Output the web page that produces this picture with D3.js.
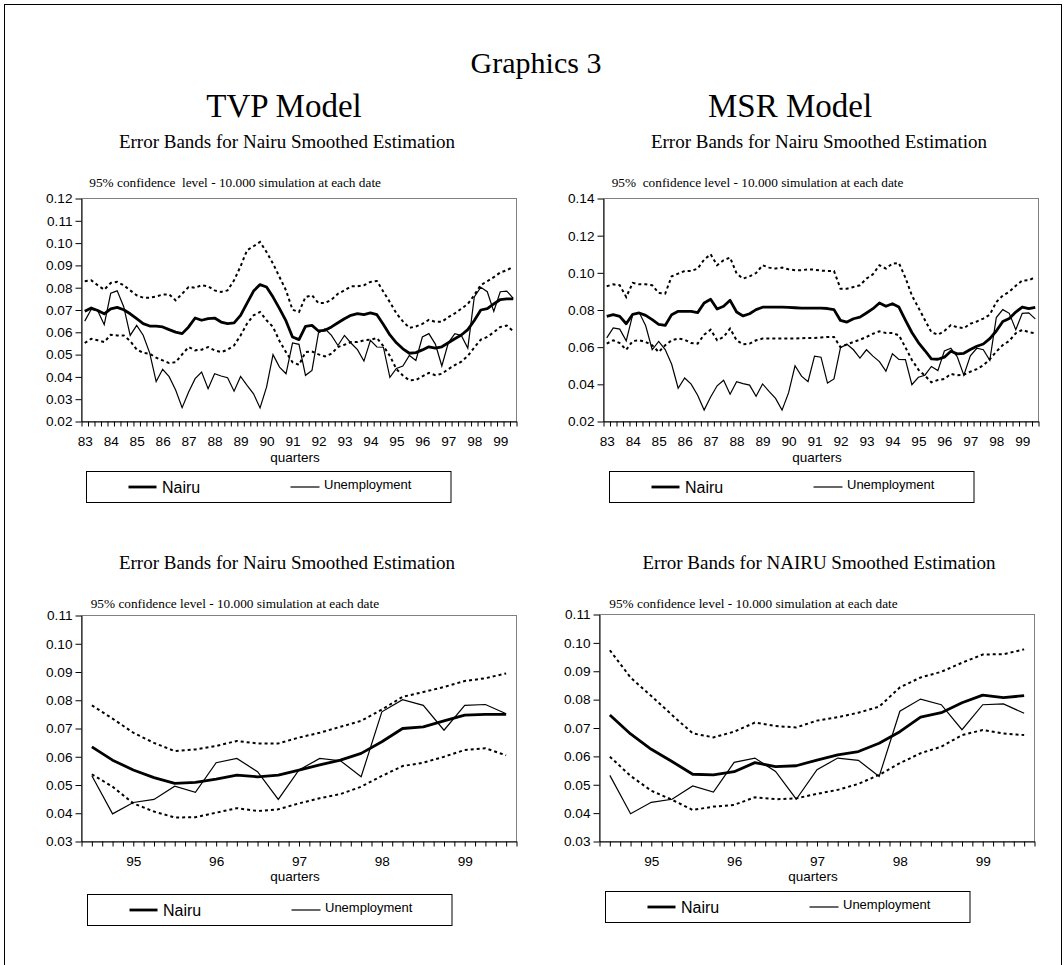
<!DOCTYPE html>
<html><head><meta charset="utf-8">
<script src="https://cdn.jsdelivr.net/npm/d3@7"></script>
<style>
body{margin:0;background:#fff;}
svg text{white-space:pre;}
</style></head><body>
<svg id="c" width="1064" height="965"></svg>
<script>
// ---------- data (quarterly, 1983Q1 .. 1999Q3) ----------
const yearLabels = ["83","84","85","86","87","88","89","90","91","92","93","94","95","96","97","98","99"];
const quartersPerYear = 4;
const nQuarters = 67;

const unemployment = [
 0.0650,0.0703,0.0697,0.0634,0.0775,0.0786,0.0715,0.0586,0.0631,0.0587,
 0.0508,0.0379,0.0434,0.0401,0.0341,0.0262,0.0332,0.0392,0.0422,0.0347,
 0.0414,0.0404,0.0396,0.0336,0.0402,0.0362,0.0324,0.0261,0.0354,0.0500,
 0.0444,0.0414,0.0552,0.0546,0.0407,0.0429,0.0597,0.0616,0.0586,0.0541,
 0.0586,0.0552,0.0522,0.0471,0.0564,0.0534,
 0.0533,0.0398,0.0438,0.0449,0.0496,0.0474,0.0579,0.0594,0.0547,0.0449,
 0.0553,0.0594,0.0586,0.0529,0.0759,0.0802,0.0782,0.0694,0.0782,0.0785,0.0752];

const nairuTVP = [
 0.0694,0.0709,0.0698,0.0683,0.0705,0.0712,0.0701,0.0683,0.0661,0.0639,
 0.0628,0.0628,0.0624,0.0612,0.0601,0.0594,0.0624,0.0664,0.0654,0.0661,
 0.0664,0.0646,0.0639,0.0642,0.0676,0.0731,0.0785,0.0814,0.0803,0.0758,
 0.0706,0.0651,0.0579,0.0567,0.0627,0.0631,0.0606,0.0609,0.0624,0.0643,
 0.0661,0.0676,0.0684,0.0679,0.0687,0.0679,
 0.0635,0.0588,0.0553,0.0526,0.0506,0.0509,0.0521,0.0535,0.0529,0.0535,
 0.0553,0.0571,0.0588,0.0612,0.0653,0.0700,0.0706,0.0727,0.0747,0.0750,0.0750];

const upperTVP = [
 0.0829,0.0833,0.0811,0.0791,0.0821,0.0826,0.0811,0.0788,0.0766,0.0755,
 0.0755,0.0761,0.0769,0.0770,0.0743,0.0773,0.0803,0.0800,0.0811,0.0806,
 0.0788,0.0781,0.0788,0.0833,0.0896,0.0968,0.0986,0.1005,0.0960,0.0908,
 0.0848,0.0788,0.0701,0.0691,0.0758,0.0766,0.0731,0.0731,0.0746,0.0773,
 0.0788,0.0806,0.0806,0.0811,0.0826,0.0830,
 0.0782,0.0735,0.0685,0.0649,0.0620,0.0626,0.0638,0.0656,0.0647,0.0647,
 0.0668,0.0685,0.0706,0.0727,0.0767,0.0812,0.0829,0.0847,0.0868,0.0878,0.0895];

const lowerTVP = [
 0.0552,0.0571,0.0564,0.0556,0.0589,0.0586,0.0586,0.0561,0.0523,0.0508,
 0.0504,0.0486,0.0474,0.0462,0.0466,0.0501,0.0534,0.0519,0.0522,0.0534,
 0.0519,0.0511,0.0522,0.0541,0.0586,0.0639,0.0676,0.0691,0.0654,0.0624,
 0.0561,0.0511,0.0466,0.0454,0.0511,0.0514,0.0501,0.0492,0.0504,0.0534,
 0.0544,0.0556,0.0556,0.0564,0.0567,0.0574,
 0.0538,0.0494,0.0435,0.0406,0.0385,0.0386,0.0402,0.0418,0.0408,0.0414,
 0.0435,0.0453,0.0468,0.0494,0.0532,0.0567,0.0579,0.0600,0.0624,0.0630,0.0605];

const nairuMSR = [
 0.0766,0.0775,0.0766,0.0726,0.0777,0.0784,0.0771,0.0748,0.0723,0.0717,
 0.0775,0.0793,0.0793,0.0793,0.0786,0.0838,0.0858,0.0805,0.0820,0.0852,
 0.0789,0.0768,0.0780,0.0802,0.0815,0.0815,0.0815,0.0815,0.0814,0.0812,
 0.0810,0.0810,0.0810,0.0810,0.0808,0.0802,0.0744,0.0735,0.0753,0.0762,
 0.0784,0.0807,0.0838,0.0820,0.0834,0.0816,
 0.0746,0.0679,0.0625,0.0582,0.0537,0.0535,0.0546,0.0578,0.0564,0.0567,
 0.0587,0.0605,0.0617,0.0646,0.0687,0.0738,0.0754,0.0789,0.0816,0.0807,0.0814];

const upperMSR = [
 0.0928,0.0938,0.0933,0.0870,0.0946,0.0938,0.0938,0.0933,0.0892,0.0888,
 0.0981,0.0996,0.1010,0.1010,0.1023,0.1071,0.1100,0.1041,0.1068,0.1082,
 0.0996,0.0969,0.0981,0.0999,0.1041,0.1028,0.1023,0.1028,0.1019,0.1014,
 0.1014,0.1019,0.1017,0.1012,0.1010,0.1010,0.0915,0.0915,0.0924,0.0933,
 0.0969,0.0992,0.1041,0.1023,0.1050,0.1053,
 0.0974,0.0878,0.0813,0.0746,0.0681,0.0667,0.0687,0.0719,0.0707,0.0702,
 0.0726,0.0738,0.0754,0.0775,0.0843,0.0878,0.0898,0.0930,0.0959,0.0960,0.0977];

const lowerMSR = [
 0.0619,0.0637,0.0622,0.0586,0.0633,0.0637,0.0628,0.0610,0.0574,0.0610,
 0.0637,0.0646,0.0640,0.0622,0.0619,0.0667,0.0694,0.0637,0.0655,0.0700,
 0.0637,0.0615,0.0619,0.0637,0.0646,0.0646,0.0646,0.0646,0.0646,0.0646,
 0.0648,0.0650,0.0650,0.0652,0.0655,0.0655,0.0600,0.0615,0.0628,0.0640,
 0.0655,0.0672,0.0685,0.0676,0.0676,0.0664,
 0.0599,0.0531,0.0479,0.0447,0.0411,0.0423,0.0429,0.0456,0.0449,0.0452,
 0.0468,0.0482,0.0503,0.0535,0.0576,0.0611,0.0634,0.0675,0.0693,0.0681,0.0675];

const zoomStart = 46; // 1994Q3
const yTicksTVPfull = [0.02,0.03,0.04,0.05,0.06,0.07,0.08,0.09,0.10,0.11,0.12];
const yTicksMSRfull = [0.02,0.04,0.06,0.08,0.10,0.12,0.14];
const yTicksZoom    = [0.03,0.04,0.05,0.06,0.07,0.08,0.09,0.10,0.11];

const mainTitle = "Graphics 3";
const modelTitles = ["TVP Model","MSR Model"];
const panelTitles = ["Error Bands for Nairu Smoothed Estimation","Error Bands for Nairu Smoothed Estimation",
                     "Error Bands for Nairu Smoothed Estimation","Error Bands for NAIRU Smoothed Estimation"];
const notes = ["95% confidence  level - 10.000 simulation at each date",
               "95%  confidence level - 10.000 simulation at each date",
               "95% confidence level - 10.000 simulation at each date",
               "95% confidence level - 10.000 simulation at each date"];
const legendNames = ["Nairu","Unemployment"];
const xTitle = "quarters";

// categories
const categories = [];
yearLabels.forEach(y => { for (let q = 1; q <= quartersPerYear; q++) categories.push({year:y, q:q}); });
const cats = categories.slice(0, nQuarters);

// ---------- drawing ----------
const svg = d3.select("#c");
const SERIF = "'Liberation Serif','Times New Roman',serif";
const SANS = "'Liberation Sans',Arial,sans-serif";

svg.append("rect").attr("x",4.5).attr("y",4.5).attr("width",1057).attr("height",1100)
   .attr("fill","none").attr("stroke","#000").attr("stroke-width",1);

svg.append("text").attr("x",536).attr("y",73).attr("text-anchor","middle")
   .style("font-family",SERIF).style("font-size","30px").text(mainTitle);
svg.append("text").attr("x",284).attr("y",117).attr("text-anchor","middle")
   .style("font-family",SERIF).style("font-size","33px").text(modelTitles[0]);
svg.append("text").attr("x",790).attr("y",117).attr("text-anchor","middle")
   .style("font-family",SERIF).style("font-size","33px").text(modelTitles[1]);

function panel(cfg) {
  const g = svg.append("g");
  const n = cfg.cats.length;
  const x = d3.scaleLinear().domain([-0.5, n - 0.5]).range([cfg.x0, cfg.x1]);
  const y = d3.scaleLinear().domain(cfg.domain).range([cfg.yB, cfg.yT]);

  // titles
  g.append("text").attr("x",cfg.titleX).attr("y",cfg.titleY).attr("text-anchor","middle")
   .style("font-family",SERIF).style("font-size","19px").text(cfg.title);
  g.append("text").attr("x",cfg.noteX).attr("y",cfg.noteY)
   .style("font-family",SERIF).style("font-size","13.3px").text(cfg.note);

  // plot frame
  g.append("rect").attr("x",cfg.x0).attr("y",cfg.yT).attr("width",cfg.x1-cfg.x0).attr("height",cfg.yB-cfg.yT)
   .attr("fill","none").attr("stroke","#808080").attr("stroke-width",1);

  // y axis
  const ya = g.append("g").attr("transform",`translate(${cfg.x0},0)`)
   .call(d3.axisLeft(y).tickValues(cfg.yTicks).tickSize(6).tickPadding(3).tickSizeOuter(0).tickFormat(d3.format(".2f")));
  ya.selectAll("text").style("font-family",SANS).style("font-size","13.6px").attr("fill","#000");
  ya.select(".domain").attr("stroke","#000");

  // x axis ticks at category boundaries (and halves)
  const tv = d3.range(-0.5, n - 0.5 + 1e-9, cfg.tickStep);
  const xa = g.append("g").attr("transform",`translate(0,${cfg.yB})`)
   .call(d3.axisBottom(x).tickValues(tv).tickSize(5).tickSizeOuter(0).tickFormat(""));
  xa.select(".domain").attr("stroke","#000");
  // x labels at first quarter of each year
  const lv = d3.range(n).filter(i => cfg.cats[i].q === 1);
  const xl = g.append("g").attr("transform",`translate(0,${cfg.yB})`)
   .call(d3.axisBottom(x).tickValues(lv).tickSize(0).tickPadding(14.5).tickFormat(i => cfg.cats[i].year));
  xl.select(".domain").remove();
  xl.selectAll("text").style("font-family",SANS).style("font-size","13.6px").attr("fill","#000");

  g.append("text").attr("x",(cfg.x0+cfg.x1)/2 - 4).attr("y",cfg.yB + cfg.xTitleDy).attr("text-anchor","middle")
   .style("font-family",SANS).style("font-size","13.5px").text(xTitle);

  const line = d3.line().x((d,i) => x(i)).y(d => y(d));
  g.append("path").datum(cfg.upper).attr("d",line).attr("fill","none").attr("stroke","#000")
   .attr("stroke-width",2).attr("stroke-dasharray","3,3");
  g.append("path").datum(cfg.lower).attr("d",line).attr("fill","none").attr("stroke","#000")
   .attr("stroke-width",2).attr("stroke-dasharray","3,3");
  g.append("path").datum(cfg.unemp).attr("d",line).attr("fill","none").attr("stroke","#000")
   .attr("stroke-width",1.2).attr("stroke-linejoin","miter");
  g.append("path").datum(cfg.nairu).attr("d",line).attr("fill","none").attr("stroke","#000")
   .attr("stroke-width",2.8).attr("stroke-linejoin","round");

  // legend
  const L = cfg.legX, T = cfg.legY;
  g.append("rect").attr("x",L).attr("y",T).attr("width",364.5).attr("height",31)
   .attr("fill","none").attr("stroke","#000").attr("stroke-width",1);
  g.append("line").attr("x1",L+42).attr("x2",L+70).attr("y1",T+15.5).attr("y2",T+15.5)
   .attr("stroke","#000").attr("stroke-width",2.8);
  g.append("text").attr("x",L+75.5).attr("y",T+21).style("font-family",SANS).style("font-size","16px").text(legendNames[0]);
  g.append("line").attr("x1",L+204).attr("x2",L+233).attr("y1",T+15.5).attr("y2",T+15.5)
   .attr("stroke","#000").attr("stroke-width",1.2);
  g.append("text").attr("x",L+237.5).attr("y",T+17).style("font-family",SANS).style("font-size","13px").text(legendNames[1]);
}

const zc = cats.slice(zoomStart);
panel({cats:cats, x0:81.5, x1:516.5, yT:198.5, yB:421.5, domain:[0.02,0.12], yTicks:yTicksTVPfull, tickStep:1,
  nairu:nairuTVP, unemp:unemployment, upper:upperTVP, lower:lowerTVP,
  title:panelTitles[0], titleX:287, titleY:148, note:notes[0], noteX:89.3, noteY:186.5,
  xTitleDy:40.5, legX:86.5, legY:471.5});
panel({cats:cats, x0:603.5, x1:1038.5, yT:198.5, yB:421.5, domain:[0.02,0.14], yTicks:yTicksMSRfull, tickStep:1,
  nairu:nairuMSR, unemp:unemployment, upper:upperMSR, lower:lowerMSR,
  title:panelTitles[1], titleX:819, titleY:148, note:notes[1], noteX:611.7, noteY:186.5,
  xTitleDy:40.5, legX:609.5, legY:471.5});
panel({cats:zc, x0:81.5, x1:516.5, yT:615.5, yB:841.5, domain:[0.03,0.11], yTicks:yTicksZoom, tickStep:0.5,
  nairu:nairuTVP.slice(zoomStart), unemp:unemployment.slice(zoomStart), upper:upperTVP.slice(zoomStart), lower:lowerTVP.slice(zoomStart),
  title:panelTitles[2], titleX:287, titleY:569, note:notes[2], noteX:90.7, noteY:607.5,
  xTitleDy:39, legX:87.5, legY:894.5});
panel({cats:zc, x0:599.5, x1:1034.5, yT:614.5, yB:841.5, domain:[0.03,0.11], yTicks:yTicksZoom, tickStep:0.5,
  nairu:nairuMSR.slice(zoomStart), unemp:unemployment.slice(zoomStart), upper:upperMSR.slice(zoomStart), lower:lowerMSR.slice(zoomStart),
  title:panelTitles[3], titleX:819, titleY:569, note:notes[3], noteX:609.3, noteY:607.5,
  xTitleDy:39, legX:605.5, legY:891.5});
</script>
</body></html>
